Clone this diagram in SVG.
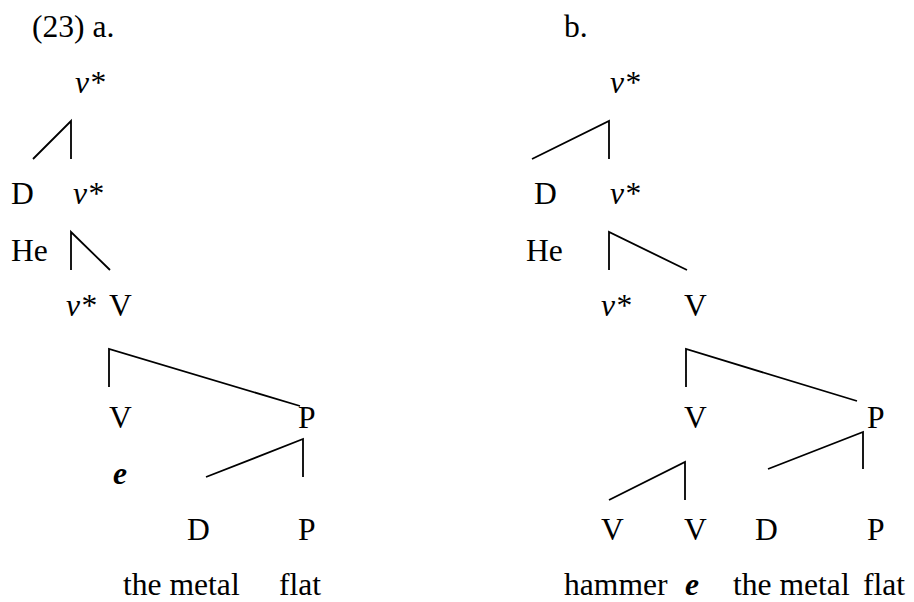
<svg xmlns="http://www.w3.org/2000/svg" width="914" height="602" viewBox="0 0 914 602">
<style>
text{font-family:"Liberation Serif","Times New Roman",serif;font-size:31.6px;fill:#000}
.i{font-style:italic}
.bi{font-style:italic;font-weight:bold}
.c path{fill:none;stroke:#000;stroke-width:1.8}
</style>
<rect width="914" height="602" fill="#fff"/>
<g id="label-a"><text x="32" y="37">(23) a.</text></g>
<g id="label-b"><text x="564" y="37">b.</text></g>
<g id="a-vstar1"><text class="i" x="75" y="93">v*</text></g>
<g id="a-D"><text x="11" y="204">D</text></g>
<g id="a-vstar2"><text class="i" x="73" y="204">v*</text></g>
<g id="a-He"><text x="11" y="261">He</text></g>
<g id="a-vstar3"><text class="i" x="66" y="316">v*</text></g>
<g id="a-V1"><text x="109" y="316">V</text></g>
<g id="a-V2"><text x="109" y="428">V</text></g>
<g id="a-P1"><text x="298" y="428">P</text></g>
<g id="a-e"><text class="bi" x="113" y="484">e</text></g>
<g id="a-D2"><text x="187" y="540">D</text></g>
<g id="a-P2"><text x="298" y="540">P</text></g>
<g id="a-themetal"><text x="123" y="595">the metal</text></g>
<g id="a-flat"><text x="279" y="595">flat</text></g>
<g id="b-vstar1"><text class="i" x="610" y="93">v*</text></g>
<g id="b-D"><text x="534" y="204">D</text></g>
<g id="b-vstar2"><text class="i" x="610" y="204">v*</text></g>
<g id="b-He"><text x="526" y="261">He</text></g>
<g id="b-vstar3"><text class="i" x="601" y="316">v*</text></g>
<g id="b-V1"><text x="684" y="316">V</text></g>
<g id="b-V2"><text x="684" y="428">V</text></g>
<g id="b-P1"><text x="867" y="428">P</text></g>
<g id="b-V3"><text x="601" y="540">V</text></g>
<g id="b-V4"><text x="684" y="540">V</text></g>
<g id="b-D2"><text x="755" y="540">D</text></g>
<g id="b-P2"><text x="867" y="540">P</text></g>
<g id="b-hammer"><text x="564" y="595">hammer</text></g>
<g id="b-e"><text class="bi" x="685" y="595">e</text></g>
<g id="b-themetal"><text x="733" y="595">the metal</text></g>
<g id="b-flat"><text x="863" y="595">flat</text></g>
<g id="connectors" class="c">
<path d="M33,159 L71,121 L71,159"/>
<path d="M71,270 L71,232 L110,270"/>
<path d="M109,387 L109,349 L300,406"/>
<path d="M206,477 L303,439 L303,477"/>
<path d="M532,159 L609,121 L609,159"/>
<path d="M609,270 L609,232 L687,270"/>
<path d="M686,387 L686,349 L857,401"/>
<path d="M768,469 L863,432 L863,469"/>
<path d="M609,500 L685,462 L685,500"/>
</g>
</svg>
